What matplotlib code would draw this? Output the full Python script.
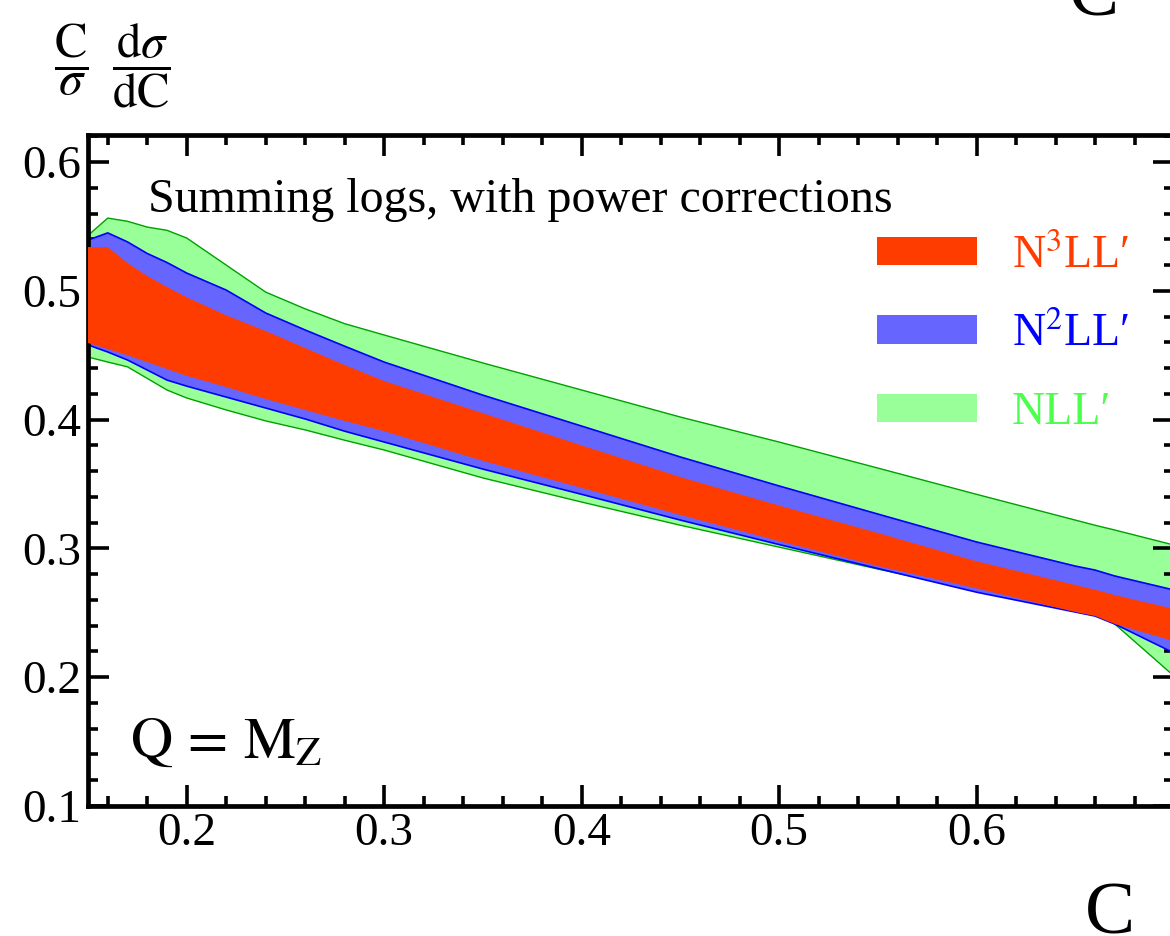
import matplotlib
matplotlib.use("Agg")
import matplotlib.pyplot as plt
from matplotlib.patches import Patch

plt.rcParams['font.family'] = ['Liberation Serif', 'DejaVu Serif']
plt.rcParams['mathtext.fontset'] = 'stix'

# ---- data ----
C = [0.15, 0.16, 0.17, 0.18, 0.19, 0.20, 0.22, 0.24, 0.26, 0.28, 0.30,
     0.35, 0.40, 0.45, 0.50, 0.55, 0.60, 0.65, 0.66, 0.67, 0.70]

nll_hi = [0.543, 0.5565, 0.554, 0.5495, 0.547, 0.541, 0.520, 0.499, 0.486, 0.4745, 0.4657,
          0.444, 0.423, 0.402, 0.3826, 0.3624, 0.342, 0.322, 0.318, 0.3143, 0.3026]
nll_lo = [0.4486, 0.4447, 0.441, 0.432, 0.423, 0.4168, 0.4075, 0.399, 0.392, 0.384, 0.3764,
          0.3547, 0.336, 0.318, 0.301, 0.284, 0.2677, 0.2514, 0.249, 0.2413, 0.2009]

n2ll_hi = [0.5394, 0.545, 0.538, 0.529, 0.522, 0.5138, 0.5006, 0.4828, 0.4696, 0.457, 0.4447,
           0.419, 0.395, 0.371, 0.3485, 0.3267, 0.305, 0.2863, 0.2832, 0.2786, 0.2677]
n2ll_lo = [0.458, 0.4525, 0.4463, 0.4385, 0.4307, 0.426, 0.4175, 0.409, 0.4005, 0.391, 0.3826,
           0.3616, 0.342, 0.322, 0.303, 0.2844, 0.266, 0.2506, 0.2475, 0.2413, 0.2188]

n3ll_hi = [0.534, 0.534, 0.5216, 0.5115, 0.503, 0.495, 0.481, 0.4688, 0.4556, 0.4424, 0.430,
           0.405, 0.380, 0.3554, 0.3333, 0.312, 0.290, 0.2716, 0.268, 0.2638, 0.253]
n3ll_lo = [0.4595, 0.4548, 0.450, 0.4447, 0.4393, 0.434, 0.4253, 0.416, 0.4075, 0.399, 0.391,
           0.368, 0.347, 0.326, 0.3057, 0.2863, 0.269, 0.2506, 0.2475, 0.2413, 0.228]

labels = ["N$^{3}$LL\u2032", "N$^{2}$LL\u2032", "NLL\u2032"]
xticks = [0.2, 0.3, 0.4, 0.5, 0.6]
yticks = [0.1, 0.2, 0.3, 0.4, 0.5, 0.6]

red_fill, red_txt = '#FF3C00', '#FF3C00'
blue_fill, blue_edge, blue_txt = '#6666FF', '#0000FF', '#0000FF'
green_fill, green_edge, green_txt = '#99FF99', '#00A000', '#4DFF4D'

W, H = 1170, 936
fig = plt.figure(figsize=(W / 100, H / 100), dpi=100)
ax = fig.add_axes([88 / W, 130 / H, 1086 / W, 671 / H])

ax.fill_between(C, nll_lo, nll_hi, facecolor=green_fill, edgecolor='none', zorder=1)
ax.plot(C, nll_hi, color=green_edge, lw=1.0, zorder=1.1)
ax.plot(C, nll_lo, color=green_edge, lw=1.0, zorder=1.1)
ax.fill_between(C, n2ll_lo, n2ll_hi, facecolor=blue_fill, edgecolor='none', zorder=2)
ax.plot(C, n2ll_hi, color=blue_edge, lw=1.2, zorder=2.1)
ax.plot(C, n2ll_lo, color=blue_edge, lw=1.2, zorder=2.1)
ax.fill_between(C, n3ll_lo, n3ll_hi, facecolor=red_fill, edgecolor='none', zorder=3)

ax.set_xlim(0.15, 0.70)
ax.set_ylim(0.1, 0.621)

ax.set_xticks(xticks)
ax.set_xticklabels([f"{v:.1f}" for v in xticks])
ax.set_yticks(yticks)
ax.set_yticklabels([f"{v:.1f}" for v in yticks])
ax.set_xticks([0.16 + 0.02 * i for i in range(28) if abs((0.16 + 0.02 * i) * 10 - round((0.16 + 0.02 * i) * 10)) > 1e-6], minor=True)
ax.set_yticks([0.1 + 0.02 * i for i in range(27) if abs((0.1 + 0.02 * i) * 10 - round((0.1 + 0.02 * i) * 10)) > 1e-6], minor=True)

for s in ax.spines.values():
    s.set_linewidth(3.4)
ax.tick_params(which='both', direction='in', top=True, right=True, labelsize=34)
ax.tick_params(which='major', length=15, width=2.6, pad=5)
ax.tick_params(which='minor', length=7.5, width=2.6)

# legend
handles = [Patch(facecolor=red_fill, edgecolor='none'),
           Patch(facecolor=blue_fill, edgecolor='none'),
           Patch(facecolor=green_fill, edgecolor='none')]
leg = ax.legend(handles, labels, loc='upper left',
                bbox_to_anchor=((877 - 88) / 1086, (806 - 235) / 671),
                frameon=False, fontsize=33, handlelength=2.18, handleheight=0.57,
                handletextpad=0.76, labelspacing=0.78, borderpad=0, borderaxespad=0)
for t, c in zip(leg.get_texts(), [red_txt, blue_txt, green_txt]):
    t.set_color(c)

ax.text((148 - 88) / 1086, (806 - 212) / 671, "Summing logs, with power corrections",
        transform=ax.transAxes, fontsize=34.5, ha='left', va='baseline')
ax.text((130 - 88) / 1086, (806 - 758) / 671, r"$\mathrm{Q\,=\,M_Z}$",
        transform=ax.transAxes, fontsize=42, ha='left', va='baseline')

# axis labels
fig.text(54 / W, 1 - 22 / H,
         r"$\dfrac{\mathrm{C}}{\sigma}\;\;\dfrac{\mathrm{d}\sigma}{\mathrm{dC}}$",
         fontsize=35, ha='left', va='top')
fig.text(1110 / W, 3 / H, "C", fontsize=54, ha='center', va='baseline')
fig.text(1094 / W, 1 - 15 / H, "C", fontsize=54, ha='center', va='baseline')

fig.savefig("out.png", dpi=100)
